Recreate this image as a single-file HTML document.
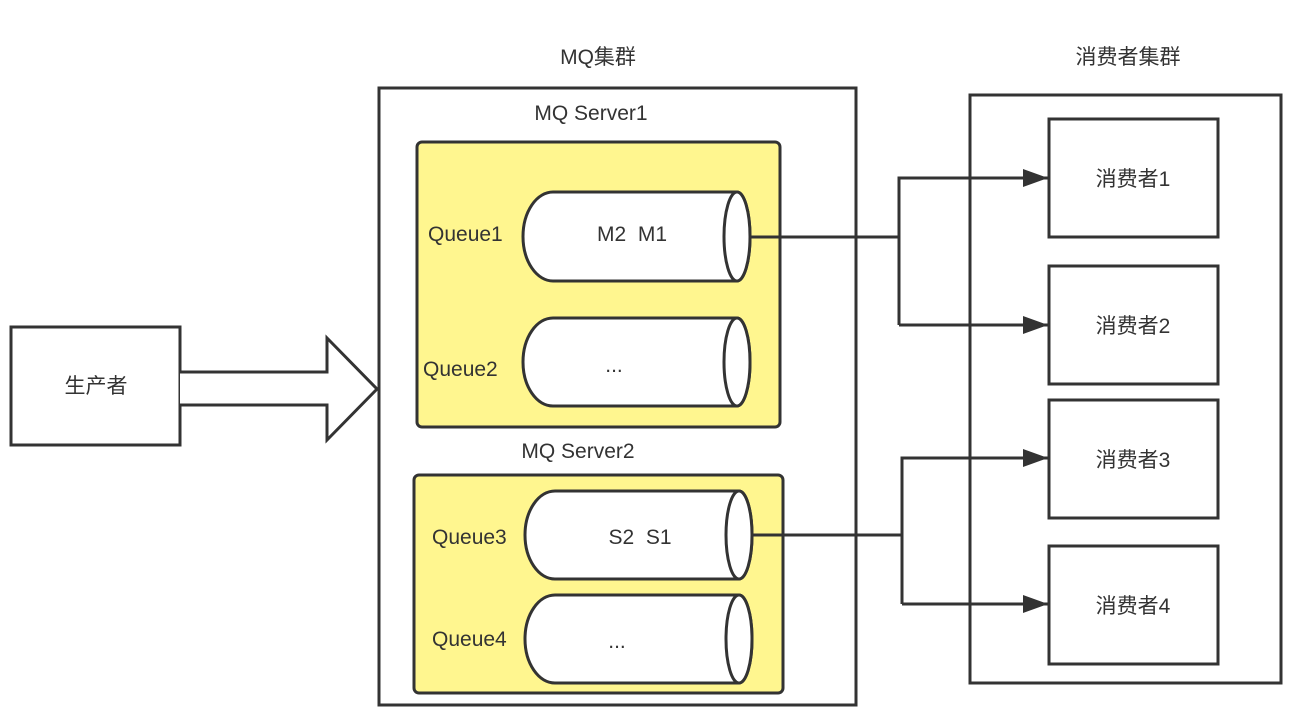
<!DOCTYPE html>
<html><head><meta charset="utf-8"><style>
html,body{margin:0;padding:0;background:#fff;}
svg{display:block;}
text{font-family:"Liberation Sans","Noto Sans CJK SC",sans-serif;fill:#333;}
</style></head><body>
<svg width="1297" height="724" viewBox="0 0 1297 724" xmlns="http://www.w3.org/2000/svg">
<defs>
<marker id="ah" markerWidth="26" markerHeight="18" refX="25" refY="9" orient="auto" markerUnits="userSpaceOnUse">
<path d="M0,0 L25,9 L0,18 Z" fill="#333"/>
</marker>
</defs>
<g stroke="#333" stroke-width="3" fill="none">
<rect x="11" y="327" width="169" height="118" fill="#fff"/>
<path d="M180,372 H327 V338 L377,389 L327,440 V405 H180" fill="#fff"/>
<rect x="379" y="88" width="477" height="617" fill="#fff"/>
<rect x="417" y="142" width="363" height="285" rx="5" fill="#fff68f"/>
<rect x="414" y="475" width="369" height="218" rx="5" fill="#fff68f"/>
<rect x="970" y="95" width="311" height="588" fill="#fff"/>
<rect x="1049" y="119" width="169" height="118" fill="#fff"/>
<rect x="1049" y="266" width="169" height="118" fill="#fff"/>
<rect x="1049" y="400" width="169" height="118" fill="#fff"/>
<rect x="1049" y="546" width="169" height="118" fill="#fff"/>
<path d="M553,192 H737 A13,44.5 0 0 1 737,281 H553 A30,44.5 0 0 1 553,192 Z" fill="#fff"/>
<ellipse cx="737" cy="236.5" rx="13" ry="44.5" fill="#fff"/>
<path d="M553,318 H737 A13,44 0 0 1 737,406 H553 A30,44 0 0 1 553,318 Z" fill="#fff"/>
<ellipse cx="737" cy="362" rx="13" ry="44" fill="#fff"/>
<path d="M555,491 H739 A13,44 0 0 1 739,579 H555 A30,44 0 0 1 555,491 Z" fill="#fff"/>
<ellipse cx="739" cy="535" rx="13" ry="44" fill="#fff"/>
<path d="M555,595 H739 A13,44 0 0 1 739,683 H555 A30,44 0 0 1 555,595 Z" fill="#fff"/>
<ellipse cx="739" cy="639" rx="13" ry="44" fill="#fff"/>
<path d="M750,237 H899"/>
<path d="M899,325 V178 H1048" marker-end="url(#ah)"/>
<path d="M899,325 H1048" marker-end="url(#ah)"/>
<path d="M752,535 H902"/>
<path d="M902,604 V458 H1048" marker-end="url(#ah)"/>
<path d="M902,604 H1048" marker-end="url(#ah)"/>
</g>
<g font-size="21">
<text x="598" y="64" text-anchor="middle">MQ集群</text>
<text x="1128" y="64" text-anchor="middle">消费者集群</text>
<text x="591" y="120" text-anchor="middle">MQ Server1</text>
<text x="578" y="458" text-anchor="middle">MQ Server2</text>
<text x="96" y="393" text-anchor="middle">生产者</text>
<text x="428" y="241">Queue1</text>
<text x="423" y="376">Queue2</text>
<text x="432" y="544">Queue3</text>
<text x="432" y="646">Queue4</text>
<text x="632" y="241" text-anchor="middle">M2&#160;&#160;M1</text>
<text x="614" y="372" text-anchor="middle">...</text>
<text x="640" y="544" text-anchor="middle">S2&#160;&#160;S1</text>
<text x="617" y="648" text-anchor="middle">...</text>
<text x="1133" y="186" text-anchor="middle">消费者1</text>
<text x="1133" y="333" text-anchor="middle">消费者2</text>
<text x="1133" y="467" text-anchor="middle">消费者3</text>
<text x="1133" y="613" text-anchor="middle">消费者4</text>
</g>
</svg>
</body></html>
